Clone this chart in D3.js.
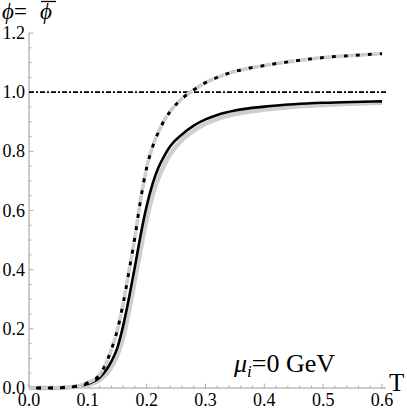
<!DOCTYPE html>
<html>
<head>
<meta charset="utf-8">
<script src="https://cdn.jsdelivr.net/npm/d3@7"></script>
<style>
  body { margin: 0; background: #fff; }
</style>
</head>
<body>
<div id="chart"></div>
<script>
// temperature grid (GeV)
var temps = [0, 0.05, 0.08, 0.1, 0.12, 0.14, 0.15, 0.16, 0.17, 0.18, 0.19, 0.2, 0.21, 0.22, 0.23, 0.24, 0.26, 0.28, 0.3, 0.32, 0.35, 0.4, 0.45, 0.5, 0.55, 0.6];
// solid black curve
var phiBlack = [0, 0.0005, 0.005, 0.014, 0.035, 0.09, 0.135, 0.21, 0.305, 0.41, 0.52, 0.615, 0.69, 0.745, 0.785, 0.817, 0.857, 0.887, 0.908, 0.923, 0.938, 0.951, 0.959, 0.964, 0.967, 0.969];
// solid gray curve
var phiGray = [0, 0.0003, 0.004, 0.01, 0.027, 0.07, 0.11, 0.17, 0.26, 0.365, 0.47, 0.57, 0.65, 0.71, 0.755, 0.79, 0.838, 0.87, 0.893, 0.91, 0.926, 0.941, 0.951, 0.957, 0.961, 0.964];
// dashed curve
var phiDashed = [0, 0.0005, 0.006, 0.018, 0.045, 0.13, 0.195, 0.285, 0.395, 0.51, 0.64, 0.745, 0.815, 0.865, 0.905, 0.935, 0.978, 1.008, 1.032, 1.05, 1.07, 1.09, 1.105, 1.117, 1.124, 1.13];
var xTicks = [0, 0.1, 0.2, 0.3, 0.4, 0.5, 0.6];
var yTicks = [0, 0.2, 0.4, 0.6, 0.8, 1.0, 1.2];

var width = 407, height = 409;
var serif = "'Liberation Serif', 'Times New Roman', 'DejaVu Serif', serif";

var svg = d3.select("#chart").append("svg")
    .attr("width", width)
    .attr("height", height)
    .style("font-family", serif);

var x = d3.scaleLinear().domain([0, 0.6]).range([29, 382]);
var y = d3.scaleLinear().domain([0, 1.2]).range([388, 33]);

var axisColor = "#9a9a9a";

// minor ticks
var xMinor = d3.range(0, 0.6001, 0.02).filter(function(d) { return Math.abs(d * 10 - Math.round(d * 10)) > 1e-6; });
var yMinor = d3.range(0, 1.2001, 0.05).filter(function(d) { return Math.abs(d * 5 - Math.round(d * 5)) > 1e-6; });

svg.selectAll(".xminor").data(xMinor).enter().append("line")
    .attr("x1", d => x(d)).attr("x2", d => x(d))
    .attr("y1", y(0)).attr("y2", y(0) - 2.5)
    .attr("stroke", axisColor).attr("stroke-width", 0.8);
svg.selectAll(".xmajor").data(xTicks).enter().append("line")
    .attr("x1", d => x(d)).attr("x2", d => x(d))
    .attr("y1", y(0)).attr("y2", y(0) - 4.5)
    .attr("stroke", axisColor).attr("stroke-width", 0.8);
svg.selectAll(".yminor").data(yMinor).enter().append("line")
    .attr("x1", x(0)).attr("x2", x(0) + 2.5)
    .attr("y1", d => y(d)).attr("y2", d => y(d))
    .attr("stroke", axisColor).attr("stroke-width", 0.8);
svg.selectAll(".ymajor").data(yTicks).enter().append("line")
    .attr("x1", x(0)).attr("x2", x(0) + 4.5)
    .attr("y1", d => y(d)).attr("y2", d => y(d))
    .attr("stroke", axisColor).attr("stroke-width", 0.8);

// axis lines
svg.append("line")
    .attr("x1", x(0)).attr("x2", 386)
    .attr("y1", y(0)).attr("y2", y(0))
    .attr("stroke", axisColor).attr("stroke-width", 1);
svg.append("line")
    .attr("x1", x(0)).attr("x2", x(0))
    .attr("y1", y(0)).attr("y2", y(1.2))
    .attr("stroke", axisColor).attr("stroke-width", 1);

// tick labels
svg.selectAll(".xlab").data(xTicks).enter().append("text")
    .attr("x", d => x(d))
    .attr("y", 406)
    .attr("text-anchor", "middle")
    .style("font-family", serif)
    .style("font-size", "18px")
    .text(d => d.toFixed(1));
svg.selectAll(".ylab").data(yTicks).enter().append("text")
    .attr("x", 25)
    .attr("y", d => y(d) + 6)
    .attr("text-anchor", "end")
    .style("font-family", serif)
    .style("font-size", "18px")
    .text(d => d.toFixed(1));

// axis labels
svg.append("text")
    .attr("x", 389).attr("y", 391)
    .style("font-family", serif)
    .style("font-size", "25px")
    .text("T");

var ylab = svg.append("text")
    .attr("x", 2).attr("y", 19)
    .style("font-family", serif)
    .style("font-size", "23px");
ylab.append("tspan").style("font-style", "italic").text("ϕ");
ylab.append("tspan").text("=");
svg.append("text")
    .attr("x", 40).attr("y", 19)
    .style("font-family", serif)
    .style("font-size", "23px")
    .style("font-style", "italic")
    .text("ϕ");
svg.append("line")
    .attr("x1", 41).attr("x2", 56)
    .attr("y1", 1.5).attr("y2", 1.5)
    .attr("stroke", "#000").attr("stroke-width", 1.3);

// annotation
var ann = svg.append("text")
    .attr("x", 234).attr("y", 372)
    .style("font-family", serif)
    .style("font-size", "26px");
ann.append("tspan").style("font-style", "italic").text("μ");
ann.append("tspan").style("font-style", "italic").style("font-size", "17px").attr("dy", 5).text("i");
ann.append("tspan").attr("dy", -5).text("=0 GeV");

// curves
var line = d3.line()
    .x(d => x(d[0]))
    .y(d => y(d[1]))
    .curve(d3.curveMonotoneX);

function pts(vals) { return temps.map(function(t, i) { return [t, vals[i]]; }); }

// horizontal reference at 1
svg.append("line")
    .attr("x1", x(0)).attr("x2", 386)
    .attr("y1", y(1)).attr("y2", y(1))
    .attr("stroke", "#000").attr("stroke-width", 1.6)
    .attr("stroke-dasharray", "5,2,2,2");

svg.append("path")
    .attr("d", line(pts(phiGray)))
    .attr("fill", "none")
    .attr("stroke", "#cfcfcf")
    .attr("stroke-width", 4.5);

svg.append("path")
    .attr("d", line(pts(phiBlack)))
    .attr("fill", "none")
    .attr("stroke", "#000")
    .attr("stroke-width", 2.6);

svg.append("path")
    .attr("d", line(pts(phiDashed)))
    .attr("fill", "none")
    .attr("stroke", "#cdcdcd")
    .attr("stroke-width", 3.6)
    .attr("stroke-dasharray", "7,5");

svg.append("path")
    .attr("d", line(pts(phiDashed)))
    .attr("fill", "none")
    .attr("stroke", "#000")
    .attr("stroke-width", 3)
    .attr("stroke-dasharray", "4,8")
    .attr("stroke-dashoffset", 4);
</script>
</body>
</html>
